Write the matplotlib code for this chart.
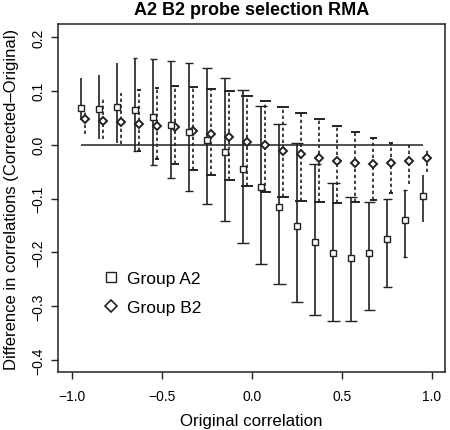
import matplotlib
matplotlib.use("Agg")
import matplotlib.pyplot as plt
from matplotlib.lines import Line2D

plt.rcParams["font.family"] = ["Liberation Sans", "DejaVu Sans"]

# bin centres of the original correlation (A2 drawn here, B2 dodged right)
x_bins = [-0.95, -0.85, -0.75, -0.65, -0.55, -0.45, -0.35, -0.25, -0.15, -0.05,
          0.05, 0.15, 0.25, 0.35, 0.45, 0.55, 0.65, 0.75, 0.85, 0.95]

# Group A2: mean difference and interval ends
mean_a = [0.068, 0.067, 0.070, 0.065, 0.051, 0.037, 0.024, 0.009, -0.014, -0.045,
          -0.078, -0.116, -0.151, -0.181, -0.201, -0.210, -0.202, -0.176, -0.139, -0.096]
hi_a = [0.123, 0.130, 0.151, 0.160, 0.159, 0.155, 0.151, 0.142, 0.124, 0.102,
        0.072, 0.039, 0.004, -0.035, -0.072, -0.098, -0.107, -0.101, -0.084, -0.057]
lo_a = [0.045, 0.011, 0.004, -0.011, -0.037, -0.061, -0.086, -0.110, -0.142, -0.182,
        -0.221, -0.259, -0.292, -0.316, -0.328, -0.328, -0.307, -0.265, -0.209, -0.144]

# Group B2
mean_b = [0.047, 0.044, 0.042, 0.038, 0.034, 0.032, 0.026, 0.020, 0.014, 0.005,
          -0.001, -0.011, -0.018, -0.024, -0.030, -0.034, -0.035, -0.034, -0.030, -0.024]
hi_b = [0.065, 0.086, 0.095, 0.102, 0.106, 0.109, 0.107, 0.103, 0.099, 0.090,
        0.081, 0.070, 0.058, 0.047, 0.035, 0.023, 0.013, 0.004, 0.000, -0.008]
lo_b = [0.020, 0.011, 0.002, -0.011, -0.026, -0.036, -0.047, -0.056, -0.066, -0.076,
        -0.087, -0.097, -0.104, -0.107, -0.109, -0.107, -0.102, -0.089, -0.073, -0.051]

x_ticks = [-1.0, -0.5, 0.0, 0.5, 1.0]
y_ticks = [-0.4, -0.3, -0.2, -0.1, 0.0, 0.1, 0.2]

# style: dodge of B2 and cap widths (px) of every whisker
dodge = 0.02
cap_a = [0, 0, 0, 5, 7, 8, 8, 10, 10, 12, 12, 13, 12, 12, 13, 12, 11, 9, 4, 0]
cap_b = [0, 0, 0, 4, 5, 8, 9, 10, 11, 12, 11, 12, 12, 11, 10, 9, 7, 4, 0, 0]
ink = "#222222"

fig = plt.figure(figsize=(4.5, 4.31), dpi=100)
ax = fig.add_axes([58 / 450, 58 / 431, 387 / 450, 348 / 431])

ax.hlines(0, x_bins[0], x_bins[-1], color=ink, lw=1.1, zorder=1)

for i, x in enumerate(x_bins):
    ax.errorbar(x, mean_a[i], yerr=[[mean_a[i] - lo_a[i]], [hi_a[i] - mean_a[i]]],
                fmt="s", ms=4.2, mfc="white", mec=ink, mew=1.0,
                ecolor=ink, elinewidth=1.2, capsize=cap_a[i] * 0.36,
                capthick=1.2, zorder=3)
    eb = ax.errorbar(x + dodge, mean_b[i], yerr=[[mean_b[i] - lo_b[i]], [hi_b[i] - mean_b[i]]],
                     fmt="D", ms=3.6, mfc="white", mec=ink, mew=1.4,
                     ecolor=ink, elinewidth=1.2, capsize=cap_b[i] * 0.36,
                     capthick=1.2, zorder=2)
    eb[2][0].set_linestyle((0, (2.0, 1.6)))

ax.set_xlim(-1.078, 1.072)
ax.set_ylim(-0.422, 0.224)
ax.set_xticks(x_ticks)
ax.set_yticks(y_ticks)
ax.set_xticklabels([f"{v:.1f}".replace("-", "\u2212") for v in x_ticks])
ax.set_yticklabels([f"{v:.1f}".replace("-", "\u2212") for v in y_ticks],
                   rotation=90, va="center")
ax.tick_params(direction="out", length=5, width=1, labelsize=10, color=ink)
ax.tick_params(axis="x", pad=7)
ax.tick_params(axis="y", pad=4)
for s in ax.spines.values():
    s.set_linewidth(1.1)
    s.set_color(ink)

ax.set_title("A2 B2 probe selection RMA", fontsize=13, fontweight="bold", pad=7)
ax.set_xlabel("Original correlation", fontsize=12.2)
ax.set_ylabel("Difference in correlations (Corrected\u2013Original)", fontsize=12)
ax.xaxis.set_label_coords(0.5, -0.118)
ax.yaxis.set_label_coords(-0.102, 0.5)

handles = [
    Line2D([], [], marker="s", ms=6.5, mfc="white", mec=ink, mew=1.0, ls="none"),
    Line2D([], [], marker="D", ms=6.6, mfc="white", mec=ink, mew=1.2, ls="none"),
]
ax.legend(handles, ["Group A2", "Group B2"], frameon=False, fontsize=12.5,
          loc="center left", bbox_to_anchor=(0.075, 0.227),
          handlelength=1.0, handletextpad=0.4, labelspacing=0.75)

fig.savefig("out.png", dpi=100)
